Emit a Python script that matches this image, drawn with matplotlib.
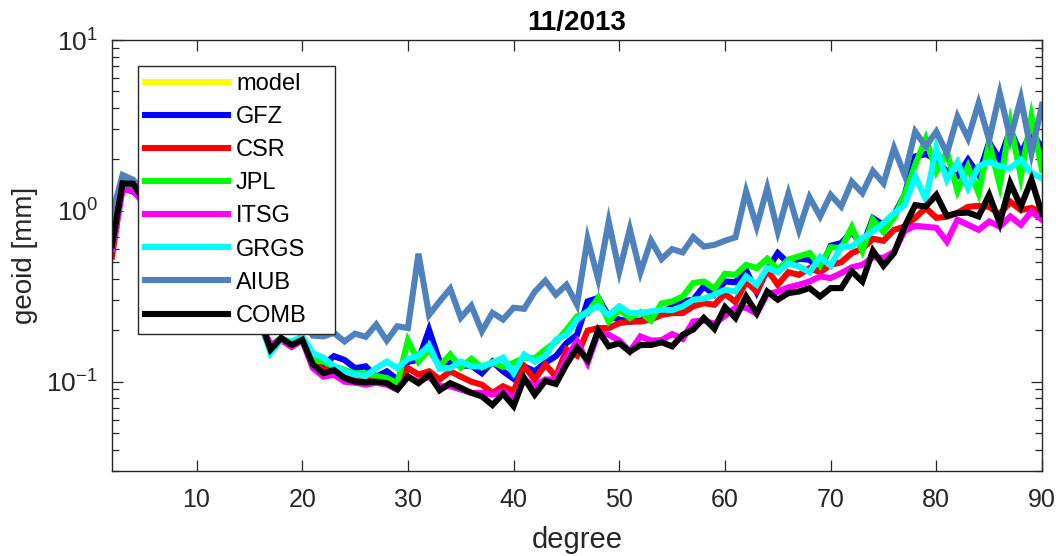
import numpy as np
import matplotlib
matplotlib.use("Agg")
import matplotlib.pyplot as plt
from matplotlib.ticker import LogLocator, NullFormatter, FixedLocator

plt.rcParams['font.family'] = ['Liberation Sans', 'DejaVu Sans']
plt.rcParams['mathtext.fontset'] = 'custom'
plt.rcParams['mathtext.rm'] = 'Liberation Sans'
plt.rcParams['mathtext.it'] = 'Liberation Sans'

title = "11/2013"
xlabel = "degree"
ylabel = "geoid [mm]"
xticks = [10, 20, 30, 40, 50, 60, 70, 80, 90]

degree = list(range(2, 91))

# model curve is not visible in the reference (legend entry only)
model = []

GFZ = [0.78, 1.35, 1.30,
       1.15, 0.98, 0.85, 0.72, 0.62, 0.54, 0.46, 0.40, 0.35, 0.30, 0.26, 0.23,
       0.16, 0.18, 0.165, 0.18, 0.13, 0.126, 0.141, 0.134, 0.120, 0.123, 0.107, 0.115, 0.103, 0.131,
       0.134, 0.201, 0.131, 0.129, 0.124, 0.124, 0.112, 0.131, 0.115, 0.104, 0.123, 0.115, 0.129,
       0.141, 0.168, 0.188, 0.295, 0.309, 0.242, 0.231, 0.224, 0.228, 0.237, 0.255, 0.273, 0.295,
       0.302, 0.361, 0.323, 0.386, 0.382, 0.449, 0.334, 0.452, 0.566, 0.494, 0.524, 0.517, 0.452,
       0.624, 0.647, 0.757, 0.618, 0.906, 0.828, 0.947, 1.24, 2.08, 2.15, 1.99, 1.70, 1.60, 1.99,
       1.62, 2.52, 1.99, 2.98, 2.15, 2.91, 2.33]

CSR = [0.54, 1.40, 1.38,
       1.12, 0.95, 0.83, 0.70, 0.60, 0.52, 0.45, 0.39, 0.34, 0.29, 0.25, 0.22,
       0.154, 0.176, 0.16, 0.176, 0.129, 0.117, 0.121, 0.113, 0.107, 0.105, 0.107, 0.101, 0.091,
       0.120, 0.110, 0.115, 0.103, 0.115, 0.107, 0.100, 0.096, 0.086, 0.094, 0.088, 0.123, 0.103,
       0.126, 0.107, 0.154, 0.142, 0.199, 0.206, 0.206, 0.220, 0.225, 0.225, 0.231, 0.246, 0.252,
       0.252, 0.276, 0.288, 0.282, 0.327, 0.292, 0.385, 0.337, 0.452, 0.369, 0.437, 0.422, 0.462,
       0.437, 0.483, 0.500, 0.566, 0.600, 0.686, 0.668, 0.774, 0.809, 0.910, 1.04, 0.910, 0.923,
       0.973, 1.055, 1.07, 1.055, 0.954, 1.13, 1.01, 1.04, 0.987]

JPL = [0.605, 1.40, 1.38,
       1.14, 0.97, 0.84, 0.71, 0.61, 0.53, 0.46, 0.40, 0.34, 0.30, 0.26, 0.22,
       0.16, 0.18, 0.165, 0.18, 0.134, 0.131, 0.123, 0.117, 0.112, 0.112, 0.108, 0.105, 0.098,
       0.174, 0.131, 0.154, 0.123, 0.144, 0.121, 0.136, 0.121, 0.130, 0.122, 0.129, 0.138, 0.137,
       0.154, 0.171, 0.201, 0.241, 0.252, 0.309, 0.225, 0.264, 0.236, 0.255, 0.228, 0.287, 0.295,
       0.315, 0.378, 0.386, 0.350, 0.428, 0.422, 0.483, 0.462, 0.524, 0.452, 0.519, 0.541, 0.566,
       0.477, 0.612, 0.605, 0.801, 0.584, 0.886, 0.754, 0.916, 1.24, 1.86, 2.64, 1.70, 2.21,
       1.31, 1.82, 1.27, 2.49, 1.42, 3.26, 1.59, 3.56, 1.74]

ITSG = [0.60, 1.33, 1.32,
        1.10, 0.94, 0.82, 0.69, 0.60, 0.52, 0.45, 0.39, 0.33, 0.29, 0.25, 0.22,
        0.165, 0.175, 0.16, 0.175, 0.12, 0.107, 0.110, 0.100, 0.0986, 0.096, 0.0986, 0.096, 0.090,
        0.107, 0.100, 0.107, 0.094, 0.094, 0.090, 0.086, 0.086, 0.084, 0.088, 0.080, 0.103, 0.094,
        0.103, 0.103, 0.138, 0.172, 0.129, 0.193, 0.188, 0.174, 0.150, 0.184, 0.174, 0.175, 0.190,
        0.178, 0.225, 0.228, 0.218, 0.243, 0.271, 0.271, 0.250, 0.327, 0.336, 0.357, 0.369, 0.386,
        0.413, 0.404, 0.432, 0.467, 0.483, 0.535, 0.531, 0.575, 0.764, 0.817, 0.806, 0.796, 0.661,
        0.886, 0.828, 0.774, 0.866, 0.809, 0.927, 0.828, 0.991, 0.886]

GRGS = [0.65, 1.52, 1.42,
        1.18, 1.00, 0.86, 0.73, 0.63, 0.54, 0.47, 0.41, 0.35, 0.30, 0.26, 0.23,
        0.147, 0.176, 0.172, 0.184, 0.147, 0.138, 0.123, 0.115, 0.110, 0.108, 0.120, 0.131, 0.120,
        0.136, 0.142, 0.163, 0.119, 0.120, 0.131, 0.123, 0.123, 0.129, 0.138, 0.112, 0.144, 0.131,
        0.141, 0.176, 0.188, 0.231, 0.258, 0.276, 0.246, 0.276, 0.252, 0.252, 0.258, 0.264, 0.262,
        0.276, 0.302, 0.306, 0.323, 0.345, 0.337, 0.413, 0.369, 0.464, 0.437, 0.494, 0.472, 0.437,
        0.535, 0.477, 0.618, 0.618, 0.692, 0.757, 0.848, 0.970, 1.08, 1.59, 1.17, 2.33, 1.52,
        1.92, 1.36, 1.82, 1.94, 1.82, 1.78, 1.99, 1.66, 1.55]

AIUB = [0.95, 1.62, 1.52,
        1.30, 1.10, 0.95, 0.82, 0.70, 0.60, 0.52, 0.45, 0.40, 0.35, 0.31, 0.28,
        0.26, 0.25, 0.24, 0.25, 0.186, 0.184, 0.193, 0.172, 0.191, 0.183, 0.216, 0.174, 0.211,
        0.206, 0.561, 0.246, 0.295, 0.350, 0.237, 0.278, 0.197, 0.253, 0.231, 0.271, 0.267, 0.336,
        0.390, 0.323, 0.369, 0.282, 0.684, 0.399, 0.865, 0.442, 0.782, 0.436, 0.670, 0.522, 0.597,
        0.571, 0.702, 0.618, 0.632, 0.668, 0.700, 1.30, 0.809, 1.36, 0.757, 1.26, 0.774, 1.20,
        0.927, 1.24, 1.06, 1.48, 1.27, 1.71, 1.45, 2.33, 1.62, 2.91, 2.38, 2.91, 2.17,
        3.56, 2.66, 4.26, 2.60, 4.88, 2.66, 4.56, 2.17, 4.17]

COMB = [0.63, 1.45, 1.44,
        1.15, 0.97, 0.84, 0.71, 0.61, 0.53, 0.46, 0.40, 0.34, 0.30, 0.26, 0.23,
        0.154, 0.180, 0.164, 0.176, 0.126, 0.112, 0.117, 0.105, 0.100, 0.099, 0.100, 0.098, 0.090,
        0.107, 0.098, 0.110, 0.089, 0.098, 0.092, 0.086, 0.082, 0.073, 0.085, 0.072, 0.105, 0.084,
        0.101, 0.097, 0.126, 0.158, 0.134, 0.199, 0.161, 0.168, 0.150, 0.164, 0.164, 0.170, 0.161,
        0.188, 0.202, 0.236, 0.204, 0.273, 0.236, 0.315, 0.252, 0.337, 0.302, 0.330, 0.337, 0.353,
        0.315, 0.353, 0.353, 0.442, 0.386, 0.584, 0.477, 0.566, 0.809, 1.08, 1.06, 1.24, 0.935,
        0.97, 0.977, 0.927, 1.24, 0.848, 1.45, 1.06, 1.52, 0.96]

series = [("model", model, (1, 1, 0)),
          ("GFZ", GFZ, (0, 0, 1)),
          ("CSR", CSR, (1, 0, 0)),
          ("JPL", JPL, (0, 1, 0)),
          ("ITSG", ITSG, (1, 0, 1)),
          ("GRGS", GRGS, (0, 1, 1)),
          ("AIUB", AIUB, (0.31, 0.51, 0.74)),
          ("COMB", COMB, (0, 0, 0))]

fig = plt.figure(figsize=(10.56, 5.56), dpi=100)
ax = fig.add_axes([112 / 1056, 1 - 471 / 556, 930 / 1056, 431 / 556])

for name, vals, col in series:
    x = degree[:len(vals)]
    ax.plot(x, vals, color=col, lw=4.4, label=name, solid_joinstyle='miter')

ax.set_yscale('log')
ax.set_xlim(2, 90)
ax.set_ylim(0.03, 10)
ax.xaxis.set_major_locator(FixedLocator(xticks))
ax.yaxis.set_major_locator(LogLocator(base=10, numticks=10))
ax.yaxis.set_minor_locator(LogLocator(base=10, subs=np.arange(2, 10), numticks=20))
ax.yaxis.set_minor_formatter(NullFormatter())

axcol = (0.15, 0.15, 0.15)
for s in ax.spines.values():
    s.set_color(axcol)
    s.set_linewidth(1.0)
ax.tick_params(which='both', direction='in', top=True, right=True, colors=axcol,
               labelcolor=axcol, labelsize=18)
ax.tick_params(which='major', length=8, width=0.9)
ax.tick_params(axis='x', which='major', pad=12)
ax.tick_params(axis='y', which='major', pad=10, labelsize=19)
ax.tick_params(which='minor', length=5, width=0.9)

ax.set_xlabel(xlabel, fontsize=21, color=axcol, labelpad=10)
ax.set_ylabel(ylabel, fontsize=20, color=axcol, labelpad=6)
ax.set_title(title, fontsize=20, fontweight='bold', color='black', pad=7)

leg = ax.legend(loc='upper left', bbox_to_anchor=(26 / 930, (471 - 332) / 431, 197 / 930, 266 / 431),
                mode='expand', borderaxespad=0, fontsize=17, handlelength=3.5,
                handletextpad=0.35, labelspacing=0.47, borderpad=0.3, fancybox=False,
                framealpha=1, edgecolor=axcol)
leg.get_frame().set_linewidth(1.0)

fig.savefig("out.png", dpi=100)
